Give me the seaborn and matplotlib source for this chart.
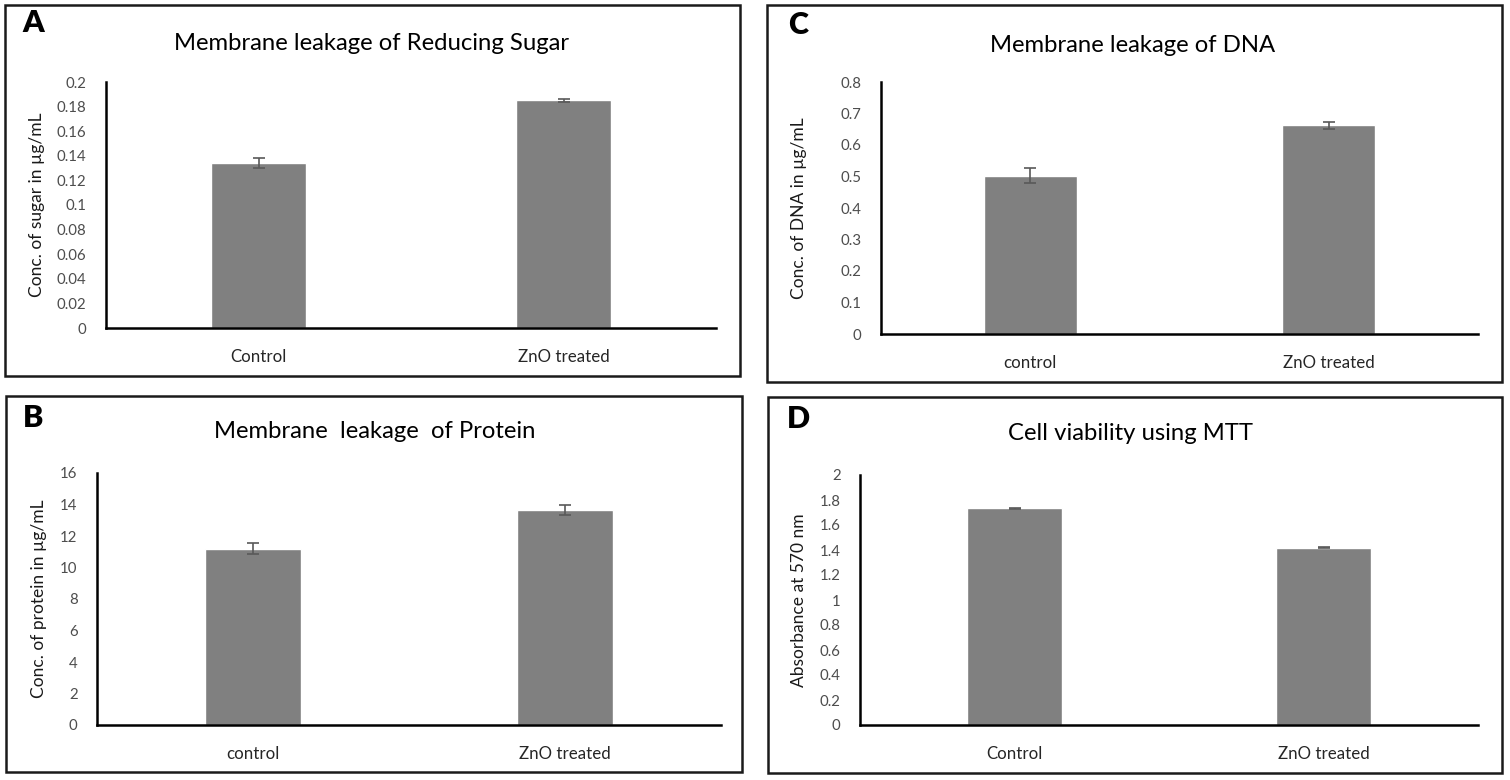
import numpy as np
import pandas as pd
import seaborn as sns
import matplotlib.pyplot as plt
from matplotlib.patches import Rectangle

# values
groups_upper = ['Control', 'ZnO treated']
groups_lower = ['control', 'ZnO treated']

sugar = [0.134, 0.185]
sugar_err = [0.004, 0.0015]

dna = [0.503, 0.662]
dna_err = [0.025, 0.01]

protein = [11.2, 13.65]
protein_err = [0.35, 0.3]

mtt = [1.735, 1.42]
mtt_err = [0.004, 0.003]

sugar_ticks = [0, 0.02, 0.04, 0.06, 0.08, 0.1, 0.12, 0.14, 0.16, 0.18, 0.2]
dna_ticks = [0, 0.1, 0.2, 0.3, 0.4, 0.5, 0.6, 0.7, 0.8]
protein_ticks = [0, 2, 4, 6, 8, 10, 12, 14, 16]
mtt_ticks = [0, 0.2, 0.4, 0.6, 0.8, 1, 1.2, 1.4, 1.6, 1.8, 2]

sns.set_style("white")
plt.rcParams['font.family'] = ['Lato', 'DejaVu Sans']

W, H = 1510, 780
fig = plt.figure(figsize=(15.1, 7.8), dpi=100)


def px_axes(left, top, right, bottom):
    return fig.add_axes([left / W, 1 - bottom / H, (right - left) / W, (bottom - top) / H])


def panel(ax, cats, vals, errs, ticks, ylabel, label_x):
    df = pd.DataFrame({'group': cats, 'value': vals})
    sns.barplot(data=df, x='group', y='value', color='#808080', saturation=1,
                width=0.31, errorbar=None, ax=ax)
    ax.errorbar(range(len(vals)), vals, yerr=errs, fmt='none', ecolor='#595959',
                elinewidth=1.2, capsize=4, capthick=1.2)
    ax.set_xlim(-0.5, 1.5)
    ax.set_ylim(ticks[0], ticks[-1])
    ax.set_yticks(ticks)
    ax.set_yticklabels([f"{t:g}" for t in ticks], color='#4d4d4d', fontsize=10.8)
    ax.tick_params(axis='y', length=0, pad=14)
    ax.tick_params(axis='x', length=0, pad=15, labelsize=12.2, labelcolor='#262626')
    ax.set_xlabel('')
    ax.set_ylabel(ylabel, fontsize=12.5, color='#1a1a1a')
    ax.yaxis.set_label_coords(label_x, 0.5)
    sns.despine(ax=ax)
    for s in ['left', 'bottom']:
        ax.spines[s].set_linewidth(1.8)
        ax.spines[s].set_color('black')
    ax.patch.set_alpha(0)


axA = px_axes(106, 82, 716, 328)
panel(axA, groups_upper, sugar, sugar_err, sugar_ticks, 'Conc. of sugar in µg/mL', -0.10)

axC = px_axes(881, 82, 1478, 334)
panel(axC, groups_lower, dna, dna_err, dna_ticks, 'Conc. of DNA in µg/mL', -0.124)

axB = px_axes(97, 473, 721, 725)
panel(axB, groups_lower, protein, protein_err, protein_ticks, 'Conc. of protein in µg/mL', -0.08)

axD = px_axes(860, 475, 1478, 725)
panel(axD, groups_upper, mtt, mtt_err, mtt_ticks, 'Absorbance at 570 nm', -0.086)

# panel frames
for (x0, y0, x1, y1) in [(5, 5, 740, 376), (767, 5, 1502, 382),
                         (6, 396, 742, 772), (768, 397, 1502, 773)]:
    fig.add_artist(Rectangle((x0 / W, 1 - y1 / H), (x1 - x0) / W, (y1 - y0) / H,
                             transform=fig.transFigure, fill=False,
                             edgecolor='#1a1a1a', linewidth=1.8))

# titles
titles = [('Membrane leakage of Reducing Sugar', 372, 44),
          ('Membrane leakage of DNA', 1133, 45),
          ('Membrane  leakage  of Protein', 375, 432),
          ('Cell viability using MTT', 1131, 433)]
for txt, x, y in titles:
    fig.text(x / W, 1 - y / H, txt, ha='center', va='center', fontsize=17.2, color='black')

# panel letters
for txt, x, y in [('A', 33, 23), ('C', 798, 25), ('B', 33, 418), ('D', 798, 419)]:
    fig.text(x / W, 1 - y / H, txt, ha='center', va='center', fontsize=22,
             fontweight='heavy', family=['Lato', 'DejaVu Sans'], color='black')

fig.savefig('out.png', dpi=100)
